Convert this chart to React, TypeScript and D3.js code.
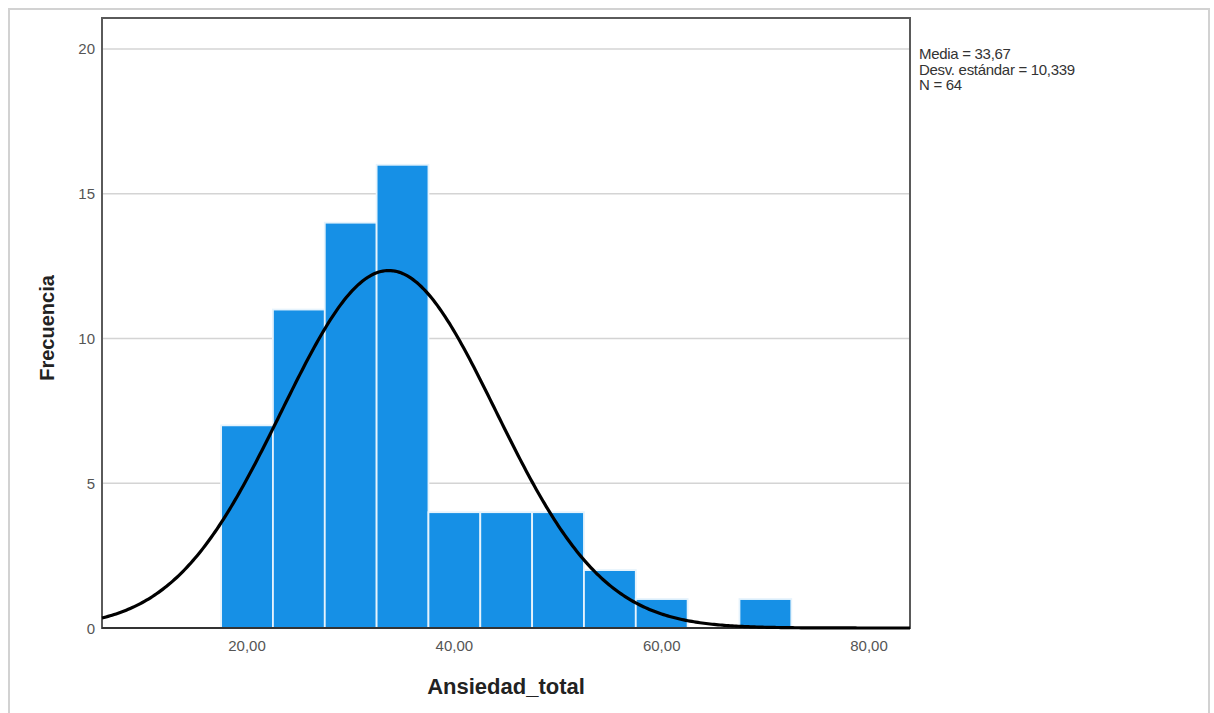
import React from "react";
import * as d3 from "d3";

// Histogram bins of Ansiedad_total (width 5)
const binStarts = [17.5, 22.5, 27.5, 32.5, 37.5, 42.5, 47.5, 52.5, 57.5, 62.5, 67.5];
const binCounts = [7, 11, 14, 16, 4, 4, 4, 2, 1, 0, 1];
const binWidth = 5;

const mean = 33.67;
const sd = 10.339;
const n = 64;

const yTicks = [0, 5, 10, 15, 20];
const xTicks = [20, 40, 60, 80];
const statsLines = ["Media = 33,67", "Desv. estándar = 10,339", "N = 64"];

const W = 1214;
const H = 713;
const plot = { left: 102, right: 910, top: 18, bottom: 628 };

export default function App() {
  const x = d3.scaleLinear().domain([6.01, 83.95]).range([plot.left, plot.right]);
  const y = d3.scaleLinear().domain([0, 21.07]).range([plot.bottom, plot.top]);

  const fmt = (v: number) => v.toFixed(2).replace(".", ",");

  const pdfScale = (n * binWidth) / (sd * Math.sqrt(2 * Math.PI));
  const curvePts: [number, number][] = d3
    .range(0, 401)
    .map((i) => {
      const v = 6.01 + (i / 400) * (83.95 - 6.01);
      const z = (v - mean) / sd;
      return [v, pdfScale * Math.exp(-0.5 * z * z)];
    });
  const line = d3
    .line<[number, number]>()
    .x((d) => x(d[0]))
    .y((d) => y(d[1]))
    .curve(d3.curveLinear);

  const font = "'Liberation Sans', Arial, sans-serif";

  return (
    <svg
      width={W}
      height={H}
      style={{ position: "absolute", left: 0, top: 0, background: "#fff" }}
      fontFamily={font}
    >
      {/* outer frame */}
      <rect x={9} y={9} width={1200} height={720} fill="#fff" stroke="#d2d2d2" strokeWidth={2} />

      {/* gridlines */}
      {yTicks
        .filter((t) => t > 0)
        .map((t) => (
          <line key={t} x1={plot.left} x2={plot.right} y1={y(t)} y2={y(t)} stroke="#d4d4d4" strokeWidth={1.5} />
        ))}

      {/* bars */}
      {binStarts.map((s, i) =>
        binCounts[i] > 0 ? (
          <rect
            key={s}
            x={x(s)}
            y={y(binCounts[i])}
            width={x(s + binWidth) - x(s)}
            height={y(0) - y(binCounts[i])}
            fill="#1690e6"
            stroke="#e6f3fc"
            strokeWidth={1.8}
          />
        ) : null
      )}

      {/* plot frame */}
      <rect
        x={plot.left}
        y={plot.top}
        width={plot.right - plot.left}
        height={plot.bottom - plot.top}
        fill="none"
        stroke="#5a5a5a"
        strokeWidth={2}
      />
      <line x1={plot.left} x2={plot.right} y1={plot.bottom} y2={plot.bottom} stroke="#333" strokeWidth={2} />

      {/* normal curve */}
      <path d={line(curvePts) || ""} fill="none" stroke="#000" strokeWidth={3.2} />

      {/* y tick labels */}
      {yTicks.map((t) => (
        <text key={t} x={95} y={y(t) + 5.5} textAnchor="end" fontSize={15} fill="#555">
          {t}
        </text>
      ))}

      {/* x tick labels */}
      {xTicks.map((t) => (
        <text key={t} x={x(t)} y={651} textAnchor="middle" fontSize={15} fill="#555">
          {fmt(t)}
        </text>
      ))}

      {/* axis titles */}
      <text x={506} y={694} textAnchor="middle" fontSize={22} fontWeight="bold" fill="#222">
        Ansiedad_total
      </text>
      <text
        transform={`translate(54, 328) rotate(-90)`}
        textAnchor="middle"
        fontSize={20}
        fontWeight="bold"
        fill="#222"
      >
        Frecuencia
      </text>

      {/* statistics */}
      {statsLines.map((s, i) => (
        <text key={s} x={919} y={59 + i * 15.5} fontSize={15} fill="#333" letterSpacing={-0.3}>
          {s}
        </text>
      ))}
    </svg>
  );
}
